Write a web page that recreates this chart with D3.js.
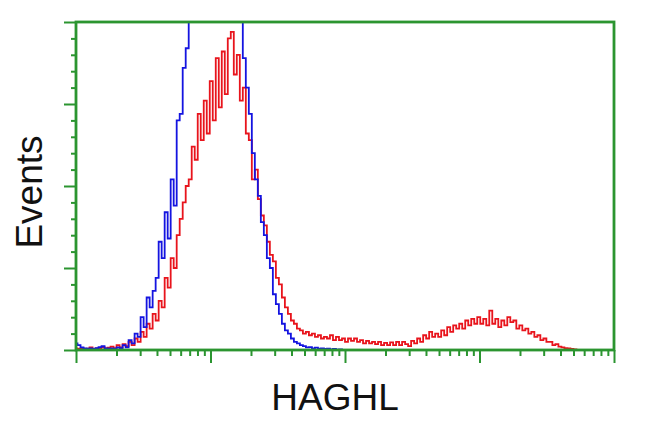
<!DOCTYPE html>
<html><head><meta charset="utf-8">
<script src="https://cdn.jsdelivr.net/npm/d3@7"></script>
<style>html,body{margin:0;padding:0;background:#fff;}svg{display:block;}</style>
</head><body>
<svg id="c" width="650" height="432"></svg>
<script>
// Tick definitions
const xMajorTicks = [1, 10, 100, 1000, 10000];
const yMajorTicks = [0, 25, 50, 75, 100];
const yMinorTicks = [5,10,15,20,30,35,40,45,55,60,65,70,80,85,90,95];
const xLabel = "HAGHL";
const yLabel = "Events";

// Histogram counts (180 channels spread over 4 log decades)
const redCounts = [
  0.5,0.3,0.6,0.3, 0.4,0.8,0.3,0.5, 0.4,0.9,0.5,0.7,
  1.0,0.6,1.5,0.8, 1.8,1.2,
  2.5,1.5,3.5,2.5,
  5.5,4,8,6.5,
  11,9,15,13,
  22,19,28,25,
  35,40,45,50,
  52,62,58,72,
  64,76,66,82,
  70,89,74,91,
  78,95,97,84,
  90,76,80,66,
  64,52,55,46,
  41,38,33,29,
  27,22,20,16,
  13,11,9,8,
  6.5,6,5,5.5,
  4.5,5,4,4.5,
  3.5,4,3.5,4.5,
  3,4,3,3.5,
  2.5,3.5,2.8,3.5,
  2.5,3,2,2.8,
  2,2.5,1.8,2.5,
  1.5,2.2,1.5,2.3,
  1.5,2.5,1.5,2.5,
  1.8,1.2,2.8,2,
  3.5,2.5,4.5,3.5,
  5.5,4,5,4,
  6,4.5,7,5.5,
  7.5,6.5,8,6.5,
  9,7.5,9.5,8,
  10,8,9.5,7.5,
  12,8,9.5,7,
  9,7.5,10,8.5,
  9,6.5,7.5,6,
  6.5,5,5.5,4,
  4.5,3,3.5,2.5,
  2.5,1.5,1.8,1,
  0.8,0.6,0.5,0.3,
  0.2,0,0,0, 0,0,0,0, 0,0,0,0, 0,0
];
const blueCounts = [
  2,1.5,0.8,0.5, 0.4,0.5,0.3,0.6, 0.9,1.2,0.5,0.4,
  0.5,0.3,0.8,0.6, 1.5,0.8,
  3,2,5,4,
  10,7,16,13,
  18,22,33,28,
  42,34,52,44,
  70,72,86,92,
  105,115,112,120,
  125,118,128,122,
  130,124,127,120,
  125,116,122,112,
  110,101,89,80,
  72,60,52,47,
  39,35,28,25,
  17,14,11,8,
  6,5,3.5,2.5,
  2,1.5,1.2,0.8,
  0.9,0.5,0.7,0.4,
  0.5,0.3,0.4,0.2,
  0.3,0.1,0.2,0,
  0,0,0,0, 0,0,0,0, 0,0,0,0, 0,0,0,0, 0,0,0,0,
  0,0,0,0, 0,0,0,0, 0,0,0,0, 0,0,0,0, 0,0,0,0,
  0,0,0,0, 0,0,0,0, 0,0,0,0, 0,0,0,0, 0,0,0,0,
  0,0,0,0, 0,0,0,0, 0,0,0,0, 0,0,0,0, 0,0,0,0,
  0,0,0,0, 0,0,0,0, 0,0
];

const svg = d3.select("#c");
const L = 76, R = 614, T = 22, B = 350;
const green = "#2b9530";

const nBins = redCounts.length;
const channelVal = i => Math.pow(10, 4 * i / (nBins - 1));

const x = d3.scaleLog().domain([1, 10000]).range([L, R]);
const y = d3.scaleLinear().domain([0, 100]).range([B, T]);

svg.append("defs").append("clipPath").attr("id", "clip")
  .append("rect").attr("x", L).attr("y", T).attr("width", R - L).attr("height", B - T);

const line = d3.line()
  .x((d, i) => x(channelVal(i)))
  .y(d => y(d))
  .curve(d3.curveStep);

const g = svg.append("g").attr("clip-path", "url(#clip)");
g.append("path").datum(redCounts).attr("d", line)
  .attr("fill", "none").attr("stroke", "#e8141c").attr("stroke-width", 1.8);
g.append("path").datum(blueCounts).attr("d", line)
  .attr("fill", "none").attr("stroke", "#1414e0").attr("stroke-width", 1.8);

// frame
svg.append("rect").attr("x", L).attr("y", T).attr("width", R - L).attr("height", B - T)
  .attr("fill", "none").attr("stroke", green).attr("stroke-width", 2.8);

// y axis
const yAxisMajor = d3.axisLeft(y).tickValues(yMajorTicks).tickSize(12).tickFormat("");
const yAxisMinor = d3.axisLeft(y).tickValues(yMinorTicks).tickSize(5).tickFormat("");
[yAxisMajor, yAxisMinor].forEach(ax => {
  const a = svg.append("g").attr("transform", `translate(${L},0)`).call(ax);
  a.select(".domain").remove();
  a.selectAll("line").attr("stroke", green).attr("stroke-width", 2);
});

// x axis
const xMinor = [];
for (let d = 1; d < 10000; d *= 10) for (let k = 2; k <= 9; k++) xMinor.push(d * k);
const xAxisMajor = d3.axisBottom(x).tickValues(xMajorTicks).tickSize(13).tickFormat("");
const xAxisMinor = d3.axisBottom(x).tickValues(xMinor).tickSize(6).tickFormat("");
[xAxisMajor, xAxisMinor].forEach(ax => {
  const a = svg.append("g").attr("transform", `translate(0,${B})`).call(ax);
  a.select(".domain").remove();
  a.selectAll("line").attr("stroke", green).attr("stroke-width", 2);
});

// labels
svg.append("text").attr("x", 335).attr("y", 410).attr("text-anchor", "middle")
  .attr("font-family", "Liberation Sans, Arial, sans-serif").attr("font-size", 37)
  .attr("fill", "#111").text(xLabel);
svg.append("text").attr("transform", "translate(42,192) rotate(-90)").attr("text-anchor", "middle")
  .attr("font-family", "Liberation Sans, Arial, sans-serif").attr("font-size", 37)
  .attr("fill", "#111").text(yLabel);
</script>
</body></html>
